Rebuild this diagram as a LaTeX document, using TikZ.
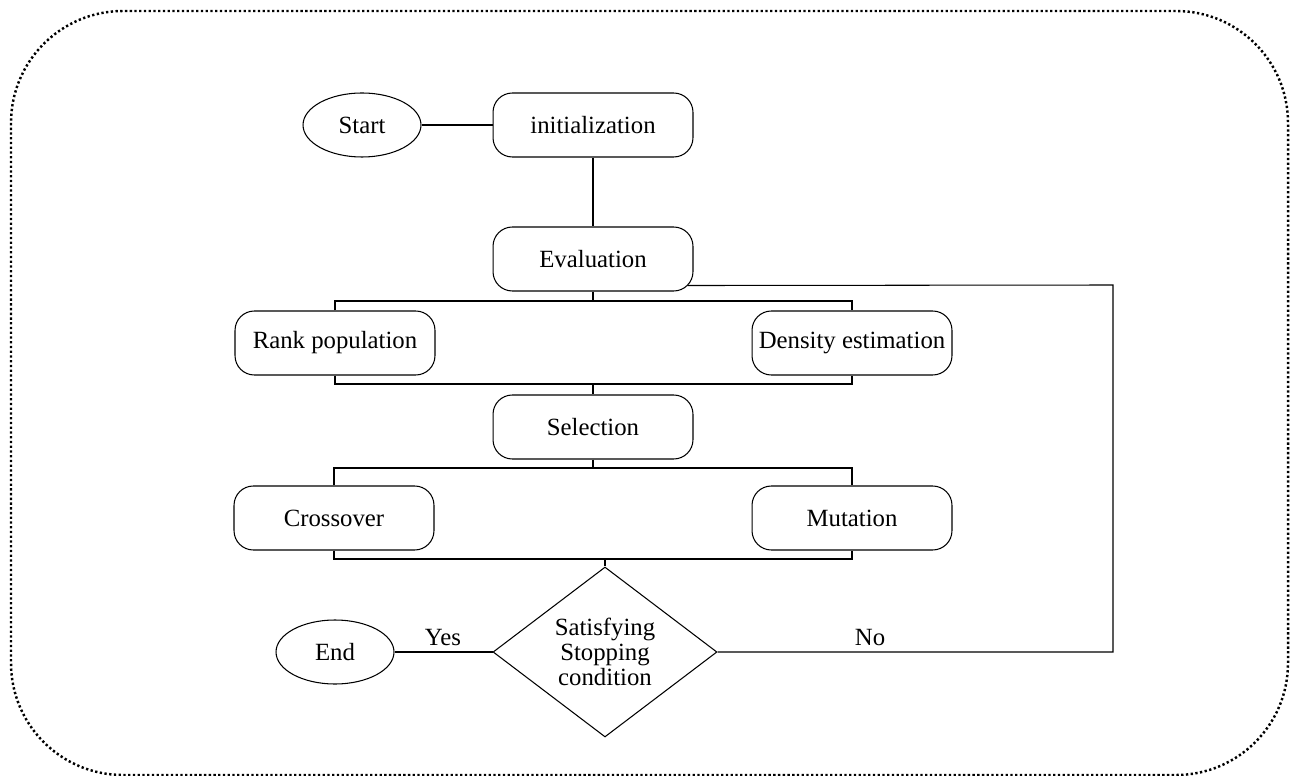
\documentclass[tikz,border=0pt]{standalone}
\usepackage{fontspec}
\setmainfont{Liberation Serif}
\usetikzlibrary{shapes.geometric,calc}
\begin{document}
\begin{tikzpicture}[x=0.02cm,y=-0.02cm,
  every node/.style={font=\fontsize{14.1}{14.2}\selectfont},
  proc/.style={draw, rounded corners=11pt, minimum width=4cm, minimum height=1.28cm, inner sep=0pt, line width=0.6pt},
  term/.style={draw, ellipse, minimum width=2.36cm, minimum height=1.28cm, inner sep=0pt, line width=0.6pt},
  dec/.style={draw, diamond, minimum width=4.48cm, minimum height=3.4cm, inner sep=0pt, align=center, line width=0.6pt},
  conn/.style={line width=0.6pt},
  lbl/.style={inner sep=0pt},
  frame/.style={line width=1.4pt, dash pattern=on 1.3pt off 1.4pt, rounded corners=2.24cm}]
\useasboundingbox (0,0) rectangle (1290,776);
\draw[frame] (11,11) rectangle (1288,775);

\node[term] (start) at (362,125) {Start};
\node[proc] (init) at (593,125) {initialization};
\node[proc] (eval) at (593,259) {Evaluation};
\node[proc] (rank) at (335,343) {Rank population};
\node[proc] (dens) at (852,343) {Density estimation};
\node[proc] (sel) at (593,427) {Selection};
\node[proc] (cross) at (334,518) {Crossover};
\node[proc] (mut) at (852,518) {Mutation};
\node[dec] (stop) at (605,652) {Satisfying\\Stopping\\condition};
\node[term] (end) at (335,652) {End};
\node[lbl] (yes) at (443,638) {Yes};
\node[lbl] (no) at (870,638) {No};

\coordinate (b1) at (593,301);
\coordinate (b2) at (593,384);
\coordinate (b3) at (593,468);
\coordinate (b4) at (605,559);
\coordinate (r1) at (1113,652);
\coordinate (r2) at (1113,285);
\coordinate (ecorner) at ($(eval.south east)+(-6,-6)$);

\draw[conn] (start.east) -- (init.west);
\draw[conn] (init.south) -- (eval.north);
\draw[conn] (eval.south) -- (b1);
\draw[conn] (rank.north) |- (b1) -| (dens.north);
\draw[conn] (rank.south) |- (b2) -| (dens.south);
\draw[conn] (b2) -- (sel.north);
\draw[conn] (sel.south) -- (b3);
\draw[conn] (cross.north) |- (b3) -| (mut.north);
\draw[conn] (cross.south) |- (b4) -| (mut.south);
\draw[conn] (b4) -- (stop.north);
\draw[conn] (stop.west) -- (end.east);
\draw[conn] (stop.east) -- (r1) -- (r2) -- (ecorner);
\end{tikzpicture}
\end{document}
